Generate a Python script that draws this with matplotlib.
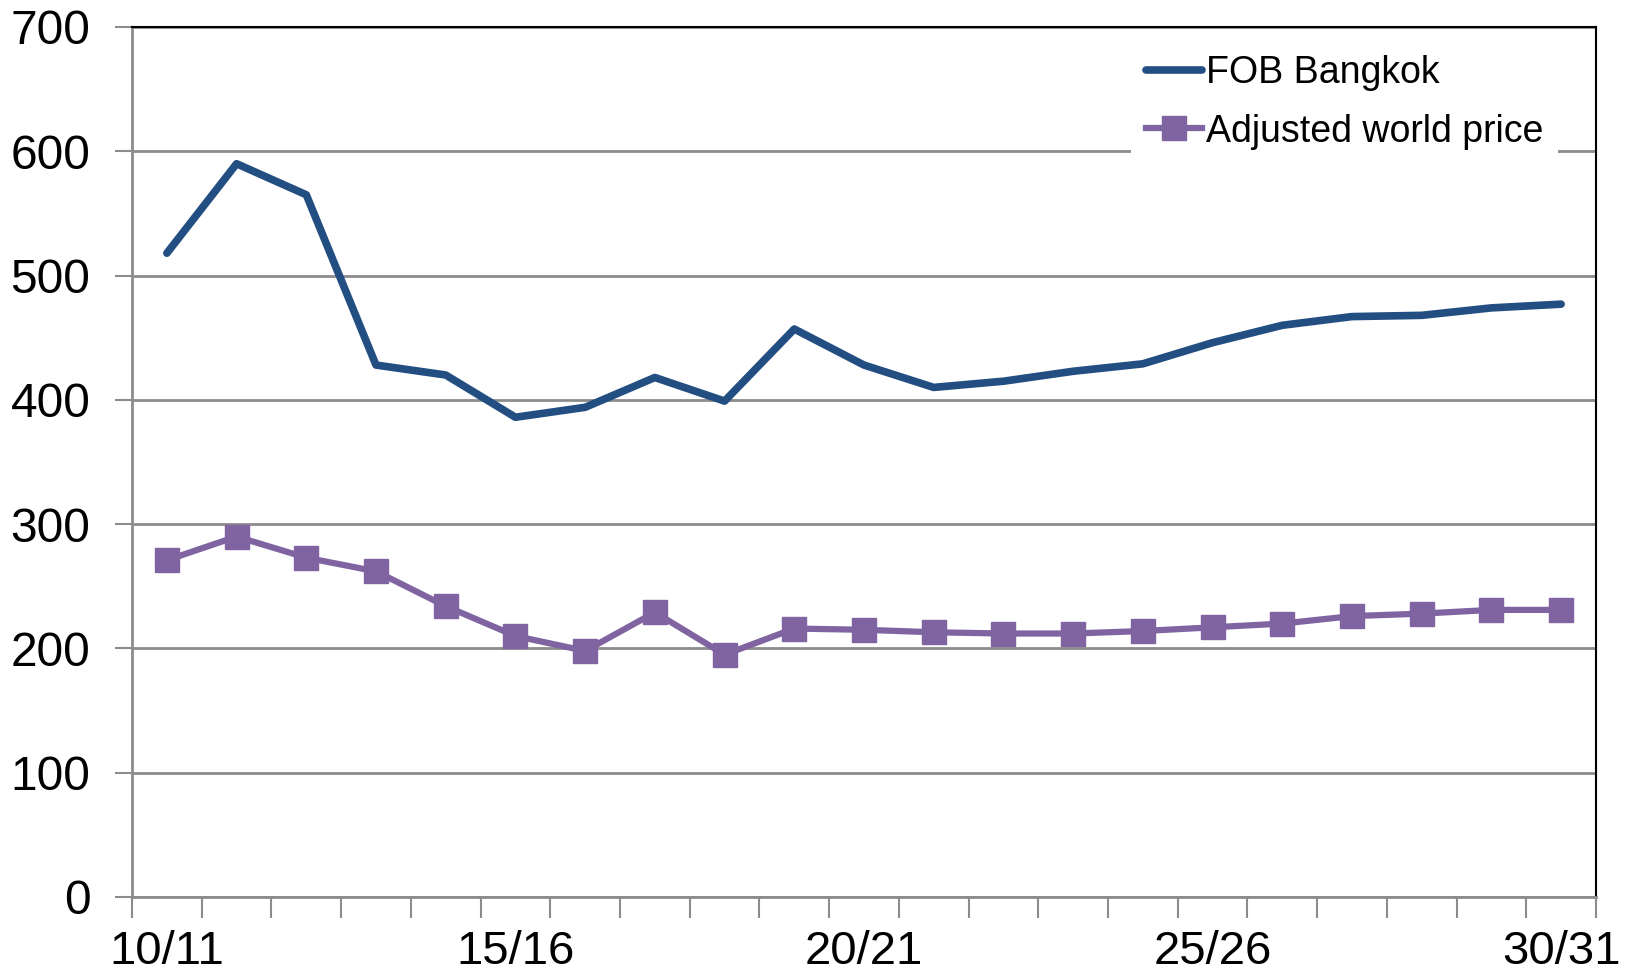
import matplotlib
matplotlib.use('Agg')
import matplotlib.pyplot as plt
import numpy as np

# marketing years 10/11 .. 30/31
years = ['%02d/%02d' % (y, y + 1) for y in range(10, 31)]
fob_bangkok = [518, 590, 565, 428, 420, 386, 394, 418, 399, 457, 428,
               410, 415, 423, 429, 446, 460, 467, 468, 474, 477]
adjusted_world = [271, 290, 273, 262, 234, 210, 198, 229, 195, 216, 215,
                  213, 212, 212, 214, 217, 220, 226, 228, 231, 231]

plt.rcParams['font.family'] = ['Liberation Sans', 'DejaVu Sans']

fig = plt.figure(figsize=(16.29, 9.76), dpi=100)
ax = fig.add_axes([132/1629, 1 - 897/976, (1596-132)/1629, (897-27)/976])

x = np.arange(len(years))
ax.plot(x, fob_bangkok, color='#234E82', lw=5.5, solid_capstyle='round',
        label='FOB Bangkok', zorder=3)
ax.plot(x, adjusted_world, color='#8064A2', lw=4.5, marker='s', ms=17,
        label='Adjusted world price', zorder=3)

ax.set_xlim(-0.5, len(years) - 0.5)
ax.set_ylim(0, 700)
ax.set_yticks(np.arange(0, 701, 100))
ax.yaxis.grid(True, color='#8c8c8c', lw=2)
ax.set_axisbelow(True)

# ticks on category boundaries, labels every 5th year
ax.set_xticks(np.arange(-0.5, len(years), 1))
ax.set_xticklabels([])
ax.set_xticks(x[::5], [years[i] for i in x[::5]], minor=True)
ax.tick_params(axis='x', which='major', length=15, width=1.5, color='#8c8c8c')
ax.tick_params(axis='x', which='minor', length=0, pad=24, labelsize=34)
ax.tick_params(axis='y', length=12, width=1.5, color='#8c8c8c', pad=18, labelsize=34.5)

for s in ['left', 'bottom']:
    ax.spines[s].set_color('#8c8c8c')
    ax.spines[s].set_linewidth(2)
for s in ['top', 'right']:
    ax.spines[s].set_color('black')
    ax.spines[s].set_linewidth(1.5)

leg = ax.legend(loc='upper right', bbox_to_anchor=(1558/1629, 1 - 40/976),
                bbox_transform=fig.transFigure, fontsize=27, frameon=True,
                edgecolor='none', facecolor='white', framealpha=1, fancybox=False,
                handlelength=1.5, handletextpad=0.1, labelspacing=0.6,
                borderpad=0.4, borderaxespad=0)

fig.savefig('out.png', dpi=100)
